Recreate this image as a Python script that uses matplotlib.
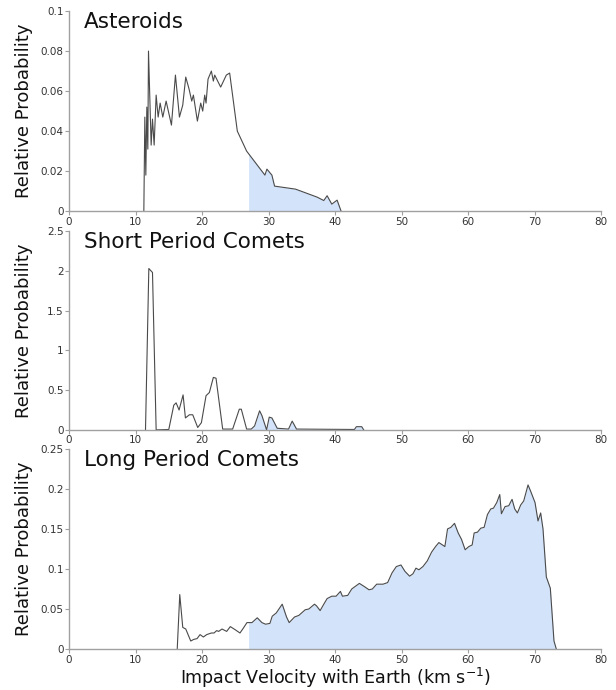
import numpy as np
import matplotlib.pyplot as plt

# --- datos ---
ast_v = [11.25, 11.4, 11.55, 11.7, 11.85, 11.95, 12.35, 12.55, 12.8, 13.1, 13.4, 13.7,
         14.1, 14.6, 15.4, 16.0, 16.6, 17.1, 17.55, 18.05, 18.45, 18.7, 19.3, 19.8,
         20.1, 20.4, 20.6, 20.9, 21.4, 21.7, 21.9, 22.8, 23.65, 24.15, 25.3, 26.7,
         29.45, 29.75, 30.5, 30.9, 34.05, 37.3, 38.3, 38.8, 39.5, 40.3, 40.9]
ast_p = [0.0, 0.047, 0.018, 0.052, 0.031, 0.080, 0.033, 0.046, 0.033, 0.058, 0.047, 0.054,
         0.047, 0.055, 0.043, 0.068, 0.047, 0.053, 0.067, 0.061, 0.055, 0.058, 0.045, 0.054,
         0.050, 0.058, 0.054, 0.066, 0.070, 0.065, 0.068, 0.062, 0.068, 0.069, 0.040, 0.030,
         0.018, 0.021, 0.018, 0.0125, 0.011, 0.007, 0.0053, 0.0077, 0.0035, 0.0055, 0.0]

spc_v = [11.5, 12.0, 12.55, 13.1, 15.0, 15.75, 16.1, 16.55, 17.15, 17.5, 18.1,
         18.6, 19.35, 19.9, 20.6, 21.1, 21.7, 22.1, 23.1, 24.6, 25.6, 25.9, 26.7,
         27.4, 27.9, 28.65, 29.0, 29.7, 30.1, 30.5, 31.3, 33.0, 33.55, 34.2, 42.9,
         43.2, 44.0, 44.3]
spc_p = [0.0, 2.03, 1.98, 0.0, 0.005, 0.31, 0.34, 0.25, 0.44, 0.15, 0.19,
         0.19, 0.03, 0.09, 0.43, 0.47, 0.66, 0.65, 0.01, 0.01, 0.26, 0.26, 0.01,
         0.01, 0.05, 0.24, 0.18, 0.0, 0.16, 0.15, 0.02, 0.01, 0.11, 0.01, 0.005,
         0.04, 0.04, 0.0]

lpc_v = [16.27, 16.65, 17.1, 17.55, 17.85, 18.3, 18.75, 19.25, 19.7, 20.2, 20.7, 21.4,
         21.8, 22.2, 22.5, 23.0, 23.7, 24.25, 25.0, 25.7, 26.2, 26.75, 27.5, 28.3,
         29.0, 29.55, 30.2, 30.55, 31.15, 32.05, 32.7, 33.1, 33.9, 34.55, 35.5, 36.05,
         36.9, 37.2, 37.75, 38.3, 38.8, 39.5, 40.15, 40.8, 41.1, 41.9, 42.5, 43.65,
         44.4, 45.1, 45.6, 46.25, 47.2, 47.9, 48.55, 49.2, 49.9, 50.5, 51.2, 51.7,
         52.15, 52.6, 53.2, 53.85, 54.5, 55.1, 55.6, 56.5, 56.9, 57.4, 57.95, 58.5,
         59.0, 59.55, 60.1, 60.6, 60.9, 61.4, 61.9, 62.4, 62.9, 63.4, 63.8, 64.3,
         64.75, 65.0, 65.55, 66.1, 66.6, 67.0, 67.4, 67.9, 68.35, 69.0, 69.4, 70.05,
         70.5, 70.9, 71.25, 71.75, 72.35, 72.9, 73.25]
lpc_p = [0.0, 0.068, 0.027, 0.025, 0.019, 0.010, 0.012, 0.013, 0.018, 0.015, 0.018, 0.020,
         0.020, 0.023, 0.022, 0.025, 0.022, 0.028, 0.024, 0.020, 0.026, 0.033, 0.033, 0.039,
         0.033, 0.031, 0.032, 0.041, 0.045, 0.056, 0.040, 0.033, 0.040, 0.042, 0.049, 0.050,
         0.056, 0.054, 0.048, 0.056, 0.063, 0.066, 0.066, 0.072, 0.066, 0.067, 0.075, 0.082,
         0.078, 0.074, 0.075, 0.081, 0.081, 0.083, 0.095, 0.103, 0.105, 0.097, 0.091, 0.094,
         0.101, 0.099, 0.103, 0.110, 0.121, 0.128, 0.133, 0.128, 0.150, 0.152, 0.157, 0.145,
         0.137, 0.124, 0.128, 0.130, 0.145, 0.146, 0.151, 0.152, 0.168, 0.175, 0.176, 0.183,
         0.193, 0.169, 0.178, 0.179, 0.187, 0.175, 0.170, 0.180, 0.185, 0.205, 0.197, 0.183,
         0.160, 0.170, 0.150, 0.090, 0.076, 0.010, 0.0]

titulos = ["Asteroids", "Short Period Comets", "Long Period Comets"]
series = [(ast_v, ast_p), (spc_v, spc_p), (lpc_v, lpc_p)]
y_max = [0.1, 2.5, 0.25]
y_ticks = [[0, 0.02, 0.04, 0.06, 0.08, 0.1],
           [0, 0.5, 1, 1.5, 2, 2.5],
           [0, 0.05, 0.1, 0.15, 0.2, 0.25]]
x_ticks = [0, 10, 20, 30, 40, 50, 60, 70, 80]
v_corte = 27  # a partir de aquí se sombrea

fig = plt.figure(figsize=(6.16, 6.9), dpi=100)
posiciones = [[0.112, 0.694, 0.864, 0.290],
              [0.112, 0.377, 0.864, 0.288],
              [0.112, 0.0594, 0.864, 0.290]]

for i in range(3):
    ax = fig.add_axes(posiciones[i])
    v = np.array(series[i][0])
    p = np.array(series[i][1])
    mask = v > v_corte
    vf = np.r_[v_corte, v[mask]]
    pf = np.r_[np.interp(v_corte, v, p), p[mask]]
    ax.fill_between(vf, 0, pf, color="#d3e3fa", linewidth=0)
    ax.plot(v, p, color="#4a4a4a", linewidth=0.8)

    ax.set_xlim(0, 80)
    ax.set_ylim(0, y_max[i])
    ax.set_xticks(x_ticks)
    ax.set_yticks(y_ticks[i])
    ax.set_yticklabels([f"{t:g}" for t in y_ticks[i]])
    for lado in ["top", "right"]:
        ax.spines[lado].set_visible(False)
    for lado in ["left", "bottom"]:
        ax.spines[lado].set_color("#a0a0a0")
        ax.spines[lado].set_linewidth(1.0)
    ax.tick_params(colors="#a0a0a0", labelcolor="#333333", labelsize=7.5,
                   length=3, width=0.8, pad=1)
    ax.set_ylabel("Relative Probability", fontsize=13, color="#111111")
    ax.yaxis.set_label_coords(-0.068, 0.5)
    ax.text(0.028, 0.995, titulos[i], transform=ax.transAxes, fontsize=15.5,
            va="top", ha="left", color="#111111")

ax.set_xlabel(r"Impact Velocity with Earth (km s$^{\mathregular{-1}}$)", fontsize=12.6,
              color="#111111", labelpad=1)

plt.savefig("out.png", dpi=100)
